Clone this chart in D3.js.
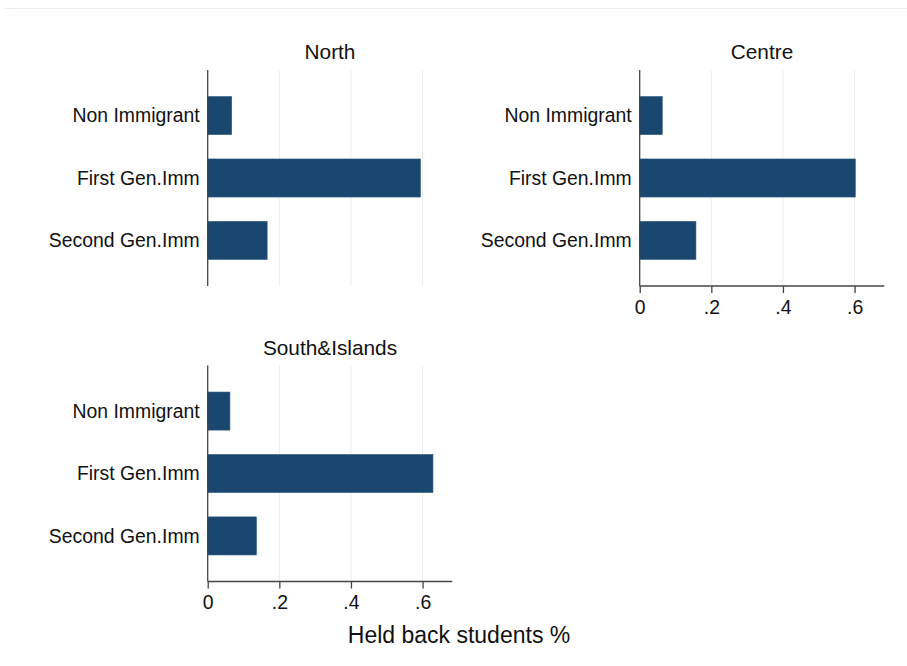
<!DOCTYPE html>
<html>
<head>
<meta charset="utf-8">
<script src="https://cdn.jsdelivr.net/npm/d3@7"></script>
<style>
  body { margin: 0; background: #fff; }
  svg { display: block; font-family: "Liberation Sans", Arial, sans-serif; }
</style>
</head>
<body>
<div id="chart"></div>
<script>
// Data
const categories = ["Non Immigrant", "First Gen.Imm", "Second Gen.Imm"];
const regions = ["North", "Centre", "South&Islands"];
const northValues = [0.067, 0.594, 0.166];
const centreValues = [0.063, 0.602, 0.157];
const southValues = [0.062, 0.629, 0.136];
const xTicks = [0, 0.2, 0.4, 0.6];
const axisTitle = "Held back students %";

const W = 907, H = 666;
const plotW = 244.6, plotH = 216;
const barColor = "#1a476f";

// panel positions (left edge of plot area, top of plot area)
const panels = [
    { title: regions[0], values: northValues, left: 207.7, top: 70, showX: false },
    { title: regions[1], values: centreValues, left: 639.7, top: 70, showX: true },
    { title: regions[2], values: southValues, left: 207.7, top: 365.5, showX: true }
];

const svg = d3.select("#chart").append("svg")
    .attr("width", W)
    .attr("height", H);

// faint frame line at top
svg.append("line")
    .attr("x1", 5).attr("x2", W)
    .attr("y1", 8.5).attr("y2", 8.5)
    .attr("stroke", "#e4eeee")
    .attr("stroke-width", 1.2);

const x = d3.scaleLinear().domain([0, 0.683]).range([0, plotW]);
const y = d3.scaleBand()
    .domain(categories)
    .range([0, plotH])
    .paddingInner(0.39)
    .paddingOuter(0.425);

const fmt = d => d === 0 ? "0" : d3.format(".1f")(d).replace(/^0/, "");

panels.forEach(p => {
    const g = svg.append("g")
        .attr("transform", `translate(${p.left},${p.top})`);

    // gridlines
    g.selectAll(".grid")
        .data(xTicks.filter(t => t > 0))
        .enter()
        .append("line")
        .attr("x1", d => x(d)).attr("x2", d => x(d))
        .attr("y1", 0).attr("y2", plotH)
        .attr("stroke", "#e6eef1")
        .attr("stroke-width", 1);

    // bars
    g.selectAll(".bar")
        .data(categories.map((c, i) => ({ cat: c, value: p.values[i] })))
        .enter()
        .append("rect")
        .attr("x", 0)
        .attr("y", d => y(d.cat))
        .attr("width", d => x(d.value))
        .attr("height", y.bandwidth())
        .attr("fill", barColor)
        .attr("stroke", "#2d5a82")
        .attr("stroke-width", 0.6);

    // y axis line + category labels
    g.append("line")
        .attr("x1", 0).attr("x2", 0)
        .attr("y1", 0).attr("y2", plotH)
        .attr("stroke", "#444")
        .attr("stroke-width", 1.3);

    g.selectAll(".cat")
        .data(categories)
        .enter()
        .append("text")
        .attr("x", -8)
        .attr("y", d => y(d) + y.bandwidth() / 2)
        .attr("dy", "0.35em")
        .attr("text-anchor", "end")
        .style("font-size", "19.4px")
        .attr("fill", "#111")
        .text(d => d);

    // panel title
    g.append("text")
        .attr("x", plotW / 2)
        .attr("y", -11)
        .attr("text-anchor", "middle")
        .style("font-size", "20.8px")
        .attr("fill", "#111")
        .text(p.title);

    if (p.showX) {
        const ax = g.append("g")
            .attr("transform", `translate(0,${plotH})`)
            .call(d3.axisBottom(x).tickValues(xTicks).tickFormat(fmt).tickSize(7).tickPadding(7));
        ax.select(".domain")
            .attr("d", `M0,0H${plotW}`)
            .attr("stroke", "#444")
            .attr("stroke-width", 1.3);
        ax.selectAll(".tick line").attr("stroke", "#444").attr("stroke-width", 1.3);
        ax.selectAll(".tick text")
            .style("font-size", "19.4px")
            .style("font-family", "Liberation Sans, Arial, sans-serif")
            .attr("fill", "#111");
    }
});

// overall x axis title
svg.append("text")
    .attr("x", 459)
    .attr("y", 643)
    .attr("text-anchor", "middle")
    .style("font-size", "23px")
    .attr("fill", "#111")
    .text(axisTitle);
</script>
</body>
</html>
